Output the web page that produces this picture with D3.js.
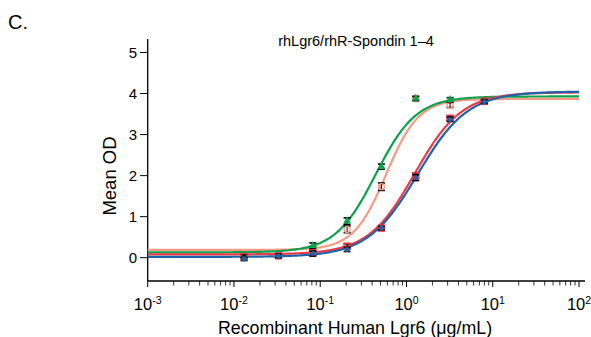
<!DOCTYPE html>
<html><head><meta charset="utf-8">
<script src="https://cdn.jsdelivr.net/npm/d3@7"></script>
<style>body{margin:0;background:#fff}svg{display:block;font-family:"Liberation Sans",Arial,sans-serif}</style>
</head><body><svg id="c" width="591" height="337"></svg>
<script>
const concentrations = [0.0131, 0.0328, 0.082, 0.205, 0.512, 1.28, 3.2, 8];
const seriesNames = ["salmon", "green", "red", "blue"];
const salmonOD = [0.03, 0.04, 0.20, 0.69, 1.73, 3.88, 3.72, 3.80];
const greenOD  = [0.05, 0.06, 0.29, 0.89, 2.22, 3.88, 3.85, 3.82];
const redOD    = [0.03, 0.05, 0.12, 0.28, 0.72, 2.00, 3.40, 3.82];
const blueOD   = [-0.03, 0.04, 0.10, 0.20, 0.72, 1.95, 3.37, 3.80];
const salmonErr = [0.04, 0.04, 0.06, 0.08, 0.09, 0.05, 0.06, 0.05];
const greenErr  = [0.04, 0.04, 0.07, 0.08, 0.06, 0.05, 0.05, 0.05];
const redErr    = [0.04, 0.04, 0.06, 0.06, 0.04, 0.07, 0.05, 0.04];
const blueErr   = [0.04, 0.04, 0.06, 0.05, 0.04, 0.07, 0.05, 0.04];
// 4PL fit parameters: bottom, top, EC50, Hill
const salmonFit = [0.19, 3.87, 0.58, 2.3];
const greenFit  = [0.13, 3.93, 0.44, 1.85];
const redFit    = [0.08, 4.03, 1.25, 1.6];
const blueFit   = [0.02, 4.05, 1.35, 1.5];
const xTickExps = [-3, -2, -1, 0, 1, 2];
const yTicks = [0, 1, 2, 3, 4, 5];

const colors = {salmon:"#f59a86", green:"#0ea24e", red:"#ec3a48", blue:"#1d64a8"};
const data = {
  salmon:{od:salmonOD, err:salmonErr, fit:salmonFit, shape:"circle"},
  green:{od:greenOD, err:greenErr, fit:greenFit, shape:"triangle"},
  red:{od:redOD, err:redErr, fit:redFit, shape:"square"},
  blue:{od:blueOD, err:blueErr, fit:blueFit, shape:"circle"}
};

const svg = d3.select("#c");
const x = d3.scaleLog().domain([1e-3, 1e2]).range([147.7, 579]);
const y = d3.scaleLinear().domain([-0.568, 5.33]).range([281, 39]);

svg.append("text").attr("x", 8).attr("y", 29).attr("font-size", 20).text("C.");
svg.append("text").attr("x", 356).attr("y", 46).attr("text-anchor", "middle").attr("font-size", 14.5).text("rhLgr6/rhR-Spondin 1–4");

// axes
svg.append("line").attr("x1", 147.7).attr("x2", 147.7).attr("y1", 39).attr("y2", 281).attr("stroke", "#000").attr("stroke-width", 1.3);
svg.append("line").attr("x1", 147.7).attr("x2", 585).attr("y1", 281).attr("y2", 281).attr("stroke", "#000").attr("stroke-width", 1.3);

const yax = svg.append("g");
yTicks.forEach(t => {
  yax.append("line").attr("x1", 140).attr("x2", 147.7).attr("y1", y(t)).attr("y2", y(t)).attr("stroke", "#000");
  yax.append("text").attr("x", 137).attr("y", y(t) + 5).attr("text-anchor", "end").attr("font-size", 15).text(t);
});

const xax = svg.append("g");
xTickExps.forEach((e, i) => {
  const v = Math.pow(10, e);
  xax.append("line").attr("x1", x(v)).attr("x2", x(v)).attr("y1", 281).attr("y2", 287).attr("stroke", "#000");
  if (i < xTickExps.length - 1) {
    for (let m = 2; m <= 9; m++) {
      xax.append("line").attr("x1", x(v * m)).attr("x2", x(v * m)).attr("y1", 281).attr("y2", 285.5).attr("stroke", "#000").attr("stroke-width", 0.8);
    }
  }
  const t = xax.append("text").attr("x", x(v)).attr("y", 310).attr("text-anchor", "middle").attr("font-size", 16.5);
  t.append("tspan").text("10");
  t.append("tspan").attr("dy", -6).attr("font-size", 10.5).text(e === 0 ? "0" : (e < 0 ? "-" + (-e) : e));
});

svg.append("text").attr("x", 355).attr("y", 334).attr("text-anchor", "middle").attr("font-size", 17.8).text("Recombinant Human Lgr6 (μg/mL)");
svg.append("text").attr("transform", "translate(115.5,176) rotate(-90)").attr("text-anchor", "middle").attr("font-size", 18.5).text("Mean OD");

// curves
const fourPL = (p, c) => p[0] + (p[1] - p[0]) / (1 + Math.pow(p[2] / c, p[3]));
const xs = d3.range(0, 301).map(i => Math.pow(10, -3 + i * 5 / 300));
const line = d3.line().x(d => x(d[0])).y(d => y(d[1])).curve(d3.curveLinear);
seriesNames.forEach(n => {
  svg.append("path").attr("d", line(xs.map(c => [c, fourPL(data[n].fit, c)])))
    .attr("fill", "none").attr("stroke", colors[n]).attr("stroke-width", 2.2);
});

// points with error bars
seriesNames.forEach(n => {
  const s = data[n];
  const g = svg.append("g");
  concentrations.forEach((c, i) => {
    const cx = x(c), cy = y(s.od[i]), e = s.err[i];
    const y0 = y(s.od[i] - e), y1 = y(s.od[i] + e);
    g.append("line").attr("x1", cx).attr("x2", cx).attr("y1", y0).attr("y2", y1).attr("stroke", "#000").attr("stroke-width", 1);
    [y0, y1].forEach(yy => g.append("line").attr("x1", cx - 3.5).attr("x2", cx + 3.5).attr("y1", yy).attr("y2", yy).attr("stroke", "#000").attr("stroke-width", 1.6));
    if (s.shape === "triangle") {
      g.append("path").attr("d", d3.symbol(d3.symbolTriangle, 28)()).attr("transform", `translate(${cx},${cy})`).attr("fill", colors[n]);
    } else if (s.shape === "square") {
      g.append("rect").attr("x", cx - 3).attr("y", cy - 3).attr("width", 6).attr("height", 6).attr("fill", "none").attr("stroke", colors[n]).attr("stroke-width", 1.4);
    } else if (n === "salmon") {
      g.append("circle").attr("cx", cx).attr("cy", cy).attr("r", 3).attr("fill", "none").attr("stroke", colors[n]).attr("stroke-width", 1.3);
    } else {
      g.append("circle").attr("cx", cx).attr("cy", cy).attr("r", 2.5).attr("fill", colors[n]);
    }
  });
});
</script></body></html>
